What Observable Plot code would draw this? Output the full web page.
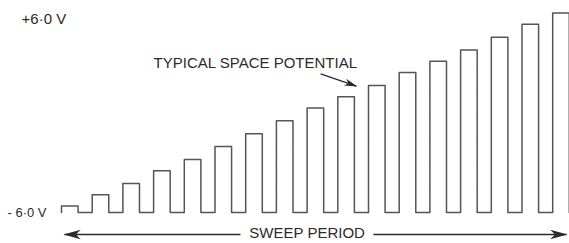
<!DOCTYPE html>
<html>
<head>
<meta charset="utf-8">
<script src="https://cdn.jsdelivr.net/npm/d3@7"></script>
<script src="https://cdn.jsdelivr.net/npm/@observablehq/plot@0.6"></script>
<style>
  html, body { margin: 0; padding: 0; background: #fff; }
</style>
</head>
<body>
<div id="chart"></div>
<script>
// ---- data ----
const pulseIndex = [0, 1, 2, 3, 4, 5, 6, 7, 8, 9, 10, 11, 12, 13, 14, 15, 16];
const pulseTopVolts = [-5.6, -4.9, -4.2, -3.4, -2.7, -1.9, -1.1, -0.3, 0.5, 1.2, 1.9, 2.7, 3.4, 4.1, 4.9, 5.7, 6.4];
const baseVolts = -6;
const pulseDuty = 0.54;
const levelValues = [6, -6];
const levelLabels = ["+6·0 V", "- 6·0 V"];
const annotationText = "TYPICAL SPACE POTENTIAL";
const sweepText = "SWEEP PERIOD";

// waveform points built from the pulse arrays
const wave = pulseIndex.flatMap((t, i) => [
  {t: t, v: baseVolts},
  {t: t, v: pulseTopVolts[i]},
  {t: t + pulseDuty, v: pulseTopVolts[i]},
  {t: t + pulseDuty, v: baseVolts}
]);

// barbed filled arrowhead symbol, tip at the origin, pointing right
const arrowHead = {
  draw(context, size) {
    const r = Math.sqrt(size / Math.PI);
    const L = 4 * r, H = 1.1 * r;
    context.moveTo(0, 0);
    context.lineTo(-L, -H);
    context.lineTo(-L * 0.72, 0);
    context.lineTo(-L, H);
    context.closePath();
  }
};

const ink = "#2b2b2b";
const lineInk = "#555";
const sweepY = -7.37;

const chart = Plot.plot({
  width: 569,
  height: 243,
  margin: 0,
  x: {domain: [-1.987, 16.547], axis: null},
  y: {domain: [-7.93, 7.18], axis: null},
  style: {background: "white", fontFamily: "Liberation Sans, Arial, sans-serif"},
  marks: [
    Plot.line(wave, {x: "t", y: "v", stroke: lineInk, strokeWidth: 1.5, strokeLinejoin: "round"}),
    Plot.text([levelLabels[0]], {x: -1.30, y: levelValues[0], text: d => d, textAnchor: "start", fontSize: 15, fill: ink}),
    Plot.text([levelLabels[1]], {x: -1.76, y: levelValues[1], text: d => d, textAnchor: "start", fontSize: 13, fill: ink}),
    Plot.text([annotationText], {x: 3.0, y: 3.3, text: d => d, textAnchor: "start", fontSize: 15, fill: ink}),
    Plot.link([0], {x1: 8.44, y1: 2.62, x2: 9.6, y2: 1.85, stroke: ink, strokeWidth: 1.3}),
    Plot.dot([0], {x: 9.64, y: 1.83, symbol: arrowHead, r: 3.3, fill: ink, stroke: "none", rotate: 19.4}),
    Plot.text([sweepText], {x: 8.0, y: -7.3, text: d => d, textAnchor: "middle", fontSize: 15, fill: ink}),
    Plot.link([0], {x1: 5.83, y1: sweepY, x2: 0.1, y2: sweepY, stroke: ink, strokeWidth: 1.3}),
    Plot.link([0], {x1: 10.16, y1: sweepY, x2: 16.45, y2: sweepY, stroke: ink, strokeWidth: 1.3}),
    Plot.dot([0], {x: 0.065, y: sweepY, symbol: arrowHead, r: 4.3, fill: ink, stroke: "none", rotate: 180}),
    Plot.dot([0], {x: 16.48, y: sweepY, symbol: arrowHead, r: 4.3, fill: ink, stroke: "none", rotate: 0})
  ]
});
document.getElementById("chart").appendChild(chart);
</script>
</body>
</html>
